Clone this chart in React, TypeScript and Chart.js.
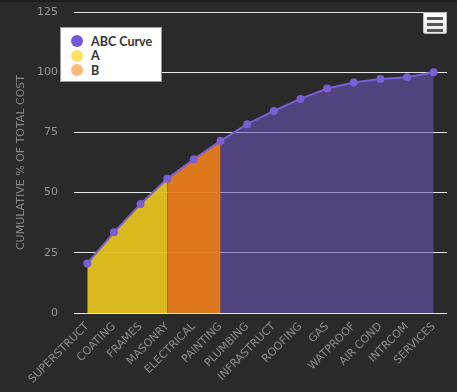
import React, { useEffect, useRef } from "react";
import { Chart, registerables } from "chart.js";

Chart.register(...registerables);

const categories = [
  "SUPERSTRUCT", "COATING", "FRAMES", "MASONRY", "ELECTRICAL", "PAINTING", "PLUMBING",
  "INFRASTRUCT", "ROOFING", "GAS", "WATPROOF", "AIR COND", "INTRCOM", "SERVICES",
];
const abcValues = [20.6, 33.5, 45.3, 55.7, 63.9, 71.5, 78.4, 83.9, 88.9, 93.2, 95.7, 97.2, 97.9, 100];
const aValues = [20.6, 33.5, 45.3, 55.7, null, null, null, null, null, null, null, null, null, null];
const bValues = [null, null, null, 55.7, 63.9, 71.5, null, null, null, null, null, null, null, null];
const yTicks = [0, 25, 50, 75, 100, 125];

const seriesNames = ["ABC Curve", "A", "B"];
const legendColors = ["#7357d6", "#ffe066", "#ffb877"];

export default function App() {
  const ref = useRef<HTMLCanvasElement | null>(null);

  useEffect(() => {
    document.body.style.margin = "0";
    document.body.style.background = "#2a2a2b";
    const canvas = ref.current;
    if (!canvas) return;
    const font = "'DejaVu Sans', sans-serif";
    const chart = new Chart(canvas, {
      type: "line",
      data: {
        labels: categories,
        datasets: [
          {
            label: seriesNames[0],
            data: abcValues,
            borderColor: "#7b5fd6",
            borderWidth: 2,
            pointRadius: 4,
            pointBackgroundColor: "#7b5fd6",
            pointBorderWidth: 0,
            pointBorderColor: "#7b5fd6",
            backgroundColor: "rgba(108,85,182,0.6)",
            fill: "origin",
            tension: 0,
            order: 2,
          },
          {
            label: seriesNames[1],
            data: aValues,
            borderColor: "transparent",
            borderWidth: 1,
            pointRadius: 0,
            backgroundColor: "rgba(236,201,17,0.88)",
            fill: "origin",
            tension: 0,
            spanGaps: false,
            order: 1,
          },
          {
            label: seriesNames[2],
            data: bValues,
            borderColor: "transparent",
            borderWidth: 1,
            pointRadius: 0,
            backgroundColor: "rgba(240,128,15,0.88)",
            fill: "origin",
            tension: 0,
            spanGaps: false,
            order: 0,
          },
        ],
      },
      options: {
        animation: false,
        responsive: false,
        maintainAspectRatio: false,
        layout: { padding: { top: 12, right: 10, left: 0, bottom: 0 } },
        plugins: {
          legend: { display: false },
          tooltip: { enabled: false },
          filler: { drawTime: "beforeDatasetsDraw" },
        },
        scales: {
          x: {
            type: "category",
            offset: true,
            grid: { display: false, drawTicks: false },
            border: { display: false },
            ticks: {
              color: "#8f8f8f",
              font: { family: font, size: 11 },
              maxRotation: 45,
              minRotation: 45,
              autoSkip: false,
              padding: 7,
            },
            afterFit: (s: any) => {
              s.height = 79;
              s.paddingLeft = 0;
              s.paddingRight = 0;
            },
          },
          y: {
            min: 0,
            max: 125,
            afterBuildTicks: (s: any) => {
              s.ticks = yTicks.map((v) => ({ value: v }));
            },
            grid: { color: "#e8e8e8", lineWidth: 1, drawTicks: false },
            border: { display: false },
            ticks: {
              color: "#999999",
              font: { family: font, size: 11 },
              padding: 16,
            },
            title: {
              display: true,
              text: "CUMULATIVE % OF TOTAL COST",
              color: "#8a8a8a",
              font: { family: font, size: 11 },
              padding: { top: 15, bottom: 4 },
            },
            afterFit: (s: any) => {
              s.width = 74;
              s.paddingTop = 0;
              s.paddingBottom = 0;
            },
          },
        },
      },
    });
    return () => chart.destroy();
  }, []);

  return (
    <div style={{ position: "relative", width: 457, height: 392, background: "#2a2a2b", overflow: "hidden" }}>
      <div style={{ position: "absolute", left: 0, top: 0, width: 457, height: 2, background: "#1e1e1e" }} />
      <canvas ref={ref} width={457} height={392} style={{ position: "absolute", left: 0, top: 0 }} />
      <div
        style={{
          position: "absolute",
          left: 60,
          top: 27,
          width: 102,
          height: 55,
          background: "#ffffff",
          border: "1px solid #9a9a9a",
          boxSizing: "border-box",
          fontFamily: "Lato, sans-serif",
          fontSize: 12.5,
          fontWeight: "bold",
          color: "#333333",
        }}
      >
        {seriesNames.map((n, i) => (
          <div
            key={n}
            style={{ position: "absolute", left: 10, top: 6 + i * 14.7, height: 14, display: "flex", alignItems: "center" }}
          >
            <span
              style={{
                display: "inline-block",
                width: 12,
                height: 12,
                borderRadius: "50%",
                background: legendColors[i],
                marginRight: 8,
              }}
            />
            <span>{n}</span>
          </div>
        ))}
      </div>
      <div
        style={{
          position: "absolute",
          left: 423,
          top: 12,
          width: 24,
          height: 22,
          background: "linear-gradient(#ffffff, #e6e6e6)",
          border: "1px solid #bdbdbd",
          borderRadius: 2,
          boxSizing: "border-box",
        }}
      >
        {[0, 1, 2].map((i) => (
          <div
            key={i}
            style={{ position: "absolute", left: 3, top: 4 + i * 6, width: 16, height: 3, background: "#555555" }}
          />
        ))}
      </div>
    </div>
  );
}
